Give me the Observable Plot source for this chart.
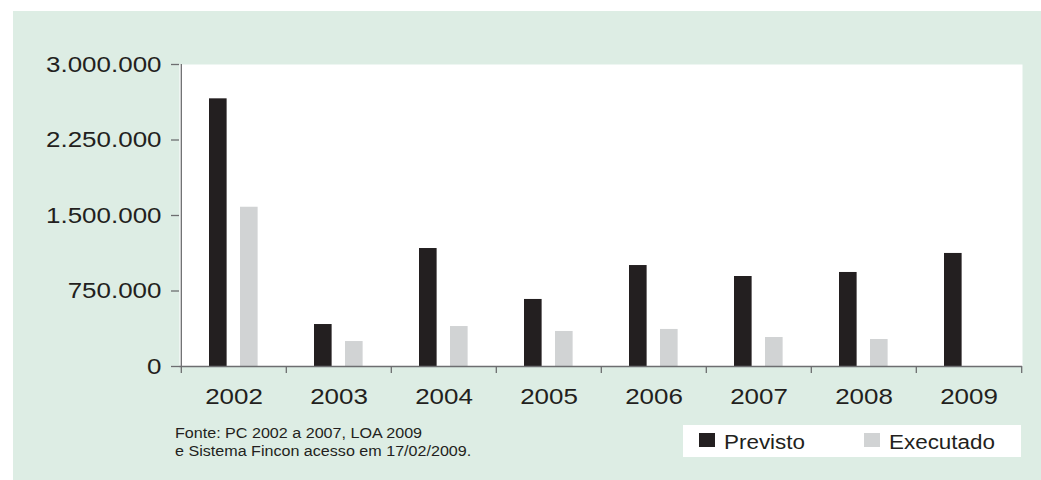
<!DOCTYPE html>
<html>
<head>
<meta charset="utf-8">
<script src="https://cdn.jsdelivr.net/npm/d3@7"></script>
<script src="https://cdn.jsdelivr.net/npm/@observablehq/plot@0.6"></script>
<style>
  html, body { margin: 0; padding: 0; background: #ffffff; }
  #page { position: relative; width: 1041px; height: 480px; overflow: hidden; font-family: "Liberation Sans", Arial, sans-serif; color: #231f20; }
  #bg { position: absolute; left: 13px; top: 11px; right: 0; bottom: 0; background: #ddede4; }
  #chart { position: absolute; left: 0; top: 0; }
  #caption { position: absolute; left: 175px; top: 425px; font-size: 14px; line-height: 17.5px; white-space: nowrap; transform: scaleX(1.15); transform-origin: left top; }
  #legend { position: absolute; left: 683px; top: 425px; width: 338px; height: 32px; background: #ffffff; }
  .sw { position: absolute; top: 8px; width: 16px; height: 14px; }
  .lt { position: absolute; top: 7px; font-size: 19.5px; line-height: 20px; white-space: nowrap; transform: scaleX(1.15); transform-origin: left top; }
</style>
</head>
<body>
<div id="page">
  <div id="bg"></div>
  <div id="chart"></div>
  <div id="caption"></div>
  <div id="legend"></div>
</div>
<script>
// ---- data ----
const years = ["2002", "2003", "2004", "2005", "2006", "2007", "2008", "2009"];
const previsto = [2659000, 417000, 1172000, 666000, 1003000, 894000, 934000, 1123000];
const executado = [1582000, 248000, 397000, 348000, 368000, 288000, 268000, null];
const seriesNames = ["Previsto", "Executado"];
const yTicks = [0, 750000, 1500000, 2250000, 3000000];
const captionLines = ["Fonte: PC 2002 a 2007, LOA 2009", "e Sistema Fincon acesso em 17/02/2009."];

// ---- layout / style ----
const W = 1041, H = 410;
const mL = 179, mR = 19, mT = 64, mB = 44;
const bw = (W - mL - mR) / years.length;
const colors = ["#231f20", "#d1d3d4"];
const axisColor = "#6d6e70";
const textColor = "#231f20";
const stretch = 1.18;

const rows = years.flatMap((y, i) => [
  {year: y, series: seriesNames[0], value: previsto[i]},
  {year: y, series: seriesNames[1], value: executado[i]}
]).filter(d => d.value != null);

const fmt = d => d3.format(",")(d).replace(/,/g, ".");

const plot = Plot.plot({
  width: W,
  height: H,
  marginLeft: mL,
  marginRight: mR,
  marginTop: mT,
  marginBottom: mB,
  style: {background: "transparent", fontFamily: "Liberation Sans, Arial, sans-serif", color: textColor},
  x: {type: "band", domain: years, padding: 0, axis: null, label: null},
  y: {domain: [0, 3000000], axis: null, label: null},
  marks: [
    Plot.frame({fill: "white", stroke: "none"}),
    Plot.barY(rows.filter(d => d.series === seriesNames[0]), {
      x: "year", y: "value", fill: colors[0], insetLeft: 28, insetRight: bw - 46
    }),
    Plot.barY(rows.filter(d => d.series === seriesNames[1]), {
      x: "year", y: "value", fill: colors[1], insetLeft: 59, insetRight: bw - 77
    }),
    Plot.ruleX([years[0]], {dx: -bw / 2, stroke: axisColor, strokeWidth: 1.3}),
    Plot.ruleY([0], {stroke: axisColor, strokeWidth: 1.3}),
    Plot.axisY({
      ticks: yTicks, tickSize: 8, tickPadding: 10, tickFormat: fmt, label: null,
      fontSize: 22, stroke: axisColor, strokeWidth: 1.3, fill: textColor
    }),
    Plot.axisX({tickSize: 0, tickPadding: 22, fontSize: 22, fill: textColor, label: null}),
    Plot.axisX({tickSize: 7, tickFormat: () => "", label: null, dx: -bw / 2, stroke: axisColor, strokeWidth: 1.3}),
    Plot.axisX({ticks: [years[years.length - 1]], tickSize: 7, tickFormat: () => "", label: null, dx: bw / 2, stroke: axisColor, strokeWidth: 1.3})
  ]
});
document.getElementById("chart").appendChild(plot);

// widen axis glyphs slightly, as in the reference
plot.querySelectorAll("text").forEach(t => {
  if (!t.textContent) return;
  const len = t.getComputedTextLength();
  if (len > 0) {
    t.setAttribute("textLength", (len * stretch).toFixed(2));
    t.setAttribute("lengthAdjust", "spacingAndGlyphs");
  }
});

// caption
document.getElementById("caption").innerHTML = captionLines.join("<br>");

// legend
const legend = document.getElementById("legend");
const swX = [16, 181], txX = [41, 206];
seriesNames.forEach((name, i) => {
  const sw = document.createElement("div");
  sw.className = "sw";
  sw.style.left = swX[i] + "px";
  sw.style.background = colors[i];
  legend.appendChild(sw);
  const t = document.createElement("div");
  t.className = "lt";
  t.style.left = txX[i] + "px";
  t.textContent = name;
  legend.appendChild(t);
});
</script>
</body>
</html>
